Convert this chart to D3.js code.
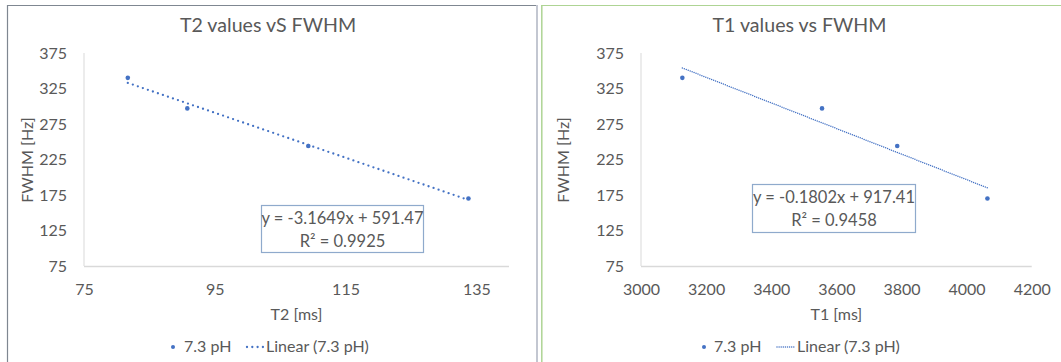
<!DOCTYPE html>
<html>
<head>
<meta charset="utf-8">
<script src="https://cdn.jsdelivr.net/npm/d3@7"></script>
<style>
  html, body { margin: 0; padding: 0; background: #fff; }
  svg { display: block; }
  text { font-family: Lato, "Open Sans", sans-serif; fill: #595959; }
</style>
</head>
<body>
<svg id="chart" width="1061" height="362"></svg>
<script>
// ---- data ----
const fwhmValues = [340, 297, 244, 170];          // FWHM [Hz]
const t2Values = [81.7, 90.8, 109.3, 133.8];      // T2 [ms]
const t1Values = [3127, 3556, 3787, 4064];        // T1 [ms]

const fitSlopes = [-3.1649, -0.1802];
const fitIntercepts = [591.47, 917.41];
const fitR2 = [0.9925, 0.9458];

const fwhmTicks = [75, 125, 175, 225, 275, 325, 375];
const t2Ticks = [75, 95, 115, 135];
const t1Ticks = [3000, 3200, 3400, 3600, 3800, 4000, 4200];

const chartTitles = ["T2 values vS FWHM", "T1 values vs FWHM"];
const xTitles = ["T2 [ms]", "T1 [ms]"];
const yTitle = "FWHM [Hz]";
const seriesName = "7.3 pH";
const trendName = "Linear (7.3 pH)";

// ---- layout ----
const BLUE = "#4472C4";
const svg = d3.select("#chart");

const panels = [
  {
    x: t2Values, xDomain: [75, 140], xRange: [84, 509], xTicks: t2Ticks,
    yAxisTitleX: 33, titleX: 268,
    box: { x: 261, y: 205, w: 162, h: 47 },
    legend: { dot: 173, text1: 184, line: [247, 263], text2: 266 },
    trendStyle: { width: 2.3, dash: "0 5.3" }
  },
  {
    x: t1Values, xDomain: [3000, 4200], xRange: [641, 1031.7], xTicks: t1Ticks,
    yAxisTitleX: 569, titleX: 799.5,
    box: { x: 752, y: 184, w: 163, h: 48 },
    legend: { dot: 704, text1: 714, line: [777, 795], text2: 797 },
    trendStyle: { width: 1.5, dash: "0 2.1" }
  }
];

// chart frames
svg.append("line").attr("x1", 7.5).attr("x2", 7.5).attr("y1", 5).attr("y2", 362)
  .attr("stroke", "#7f8791").attr("stroke-width", 1.2);
svg.append("line").attr("x1", 7).attr("x2", 537).attr("y1", 5.5).attr("y2", 5.5)
  .attr("stroke", "#7f8791").attr("stroke-width", 1.2);
svg.append("line").attr("x1", 537).attr("x2", 537).attr("y1", 5).attr("y2", 362)
  .attr("stroke", "#c3c7d1").attr("stroke-width", 2);
svg.append("line").attr("x1", 541.8).attr("x2", 541.8).attr("y1", 5).attr("y2", 362)
  .attr("stroke", "#aed494").attr("stroke-width", 1.5);
svg.append("line").attr("x1", 541).attr("x2", 1061).attr("y1", 5.5).attr("y2", 5.5)
  .attr("stroke", "#aed494").attr("stroke-width", 1.2);

const yScale = d3.scaleLinear().domain([75, 375]).range([266, 53]);

panels.forEach((p, i) => {
  const g = svg.append("g");
  const xScale = d3.scaleLinear().domain(p.xDomain).range(p.xRange);

  // title
  g.append("text").attr("x", p.titleX).attr("y", 32)
    .attr("text-anchor", "middle").style("font-size", "19.6px")
    .text(chartTitles[i]);

  // axes lines
  g.append("line").attr("x1", p.xRange[0]).attr("x2", p.xRange[0])
    .attr("y1", yScale(375)).attr("y2", yScale(75))
    .attr("stroke", "#d9d9d9").attr("stroke-width", 1);
  g.append("line").attr("x1", p.xRange[0]).attr("x2", p.xRange[1])
    .attr("y1", yScale(75) + 0.5).attr("y2", yScale(75) + 0.5)
    .attr("stroke", "#d9d9d9").attr("stroke-width", 1.5);

  // y ticks
  const yAxis = d3.axisLeft(yScale).tickValues(fwhmTicks).tickSize(0).tickPadding(17)
    .tickFormat(d3.format("d"));
  const ya = g.append("g").attr("transform", `translate(${p.xRange[0]},0)`).call(yAxis);
  ya.select(".domain").remove();
  ya.selectAll("text").style("font-size", "16px").attr("fill", "#595959")
    .attr("font-family", "Lato");

  // x ticks
  const xAxis = d3.axisBottom(xScale).tickValues(p.xTicks).tickSize(0).tickPadding(18)
    .tickFormat(d3.format("d"));
  const xa = g.append("g").attr("transform", `translate(0,${yScale(75)})`).call(xAxis);
  xa.select(".domain").remove();
  xa.selectAll("text").style("font-size", "16px").attr("fill", "#595959")
    .attr("font-family", "Lato");

  // axis titles
  g.append("text").attr("x", (p.xRange[0] + p.xRange[1]) / 2).attr("y", 320)
    .attr("text-anchor", "middle").style("font-size", "16px").text(xTitles[i]);
  g.append("text")
    .attr("transform", `translate(${p.yAxisTitleX},160) rotate(-90)`)
    .attr("text-anchor", "middle").style("font-size", "16px").text(yTitle);

  // linear trendline from the stated fit
  const xs = d3.extent(p.x);
  const fit = x => fitSlopes[i] * x + fitIntercepts[i];
  g.append("path")
    .datum(xs)
    .attr("d", d3.line().x(d => xScale(d)).y(d => yScale(fit(d))))
    .attr("fill", "none").attr("stroke", BLUE)
    .attr("stroke-width", p.trendStyle.width)
    .attr("stroke-linecap", "round")
    .attr("stroke-dasharray", p.trendStyle.dash);

  // points
  g.selectAll("circle.pt").data(p.x).join("circle").attr("class", "pt")
    .attr("cx", d => xScale(d)).attr("cy", (d, j) => yScale(fwhmValues[j]))
    .attr("r", 2.3).attr("fill", BLUE);

  // equation box
  const b = p.box;
  g.append("rect").attr("x", b.x + 0.5).attr("y", b.y + 0.5)
    .attr("width", b.w).attr("height", b.h)
    .attr("fill", "#fff").attr("stroke", "#8faacc").attr("stroke-width", 1.2);
  const sign = fitIntercepts[i] >= 0 ? "+" : "-";
  g.append("text").attr("x", b.x + b.w / 2 + 0.5).attr("y", b.y + 19)
    .attr("text-anchor", "middle").style("font-size", "16.5px")
    .text(`y = ${fitSlopes[i].toFixed(4)}x ${sign} ${Math.abs(fitIntercepts[i]).toFixed(2)}`);
  g.append("text").attr("x", b.x + b.w / 2 + 0.5).attr("y", b.y + 41.5)
    .attr("text-anchor", "middle").style("font-size", "16.5px")
    .text(`R² = ${fitR2[i].toFixed(4)}`);

  // legend
  const L = p.legend;
  g.append("circle").attr("cx", L.dot).attr("cy", 347).attr("r", 2).attr("fill", BLUE);
  g.append("text").attr("x", L.text1).attr("y", 352).style("font-size", "16px").text(seriesName);
  g.append("line").attr("x1", L.line[0]).attr("x2", L.line[1])
    .attr("y1", 347).attr("y2", 347)
    .attr("stroke", BLUE).attr("stroke-width", p.trendStyle.width)
    .attr("stroke-linecap", "round").attr("stroke-dasharray", p.trendStyle.dash);
  g.append("text").attr("x", L.text2).attr("y", 352).style("font-size", "16px").text(trendName);
});
</script>
</body>
</html>
